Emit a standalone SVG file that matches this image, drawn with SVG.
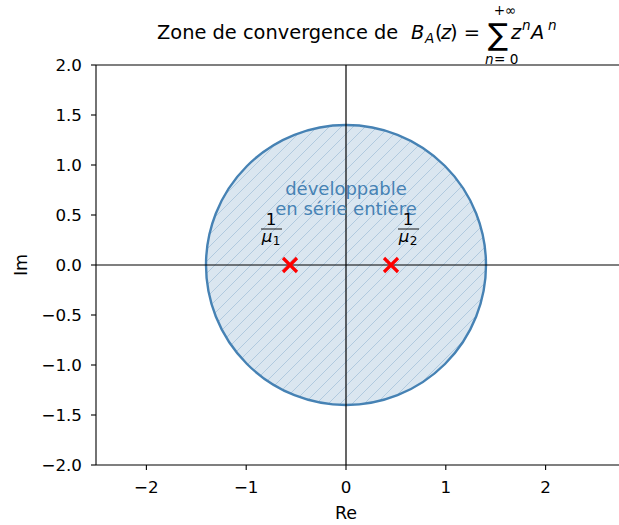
<svg xmlns="http://www.w3.org/2000/svg" width="619" height="525" viewBox="0 0 619 525">
<defs>
<style>
text{font-family:"DejaVu Sans","Liberation Sans",sans-serif;fill:#000}
.tick{font-size:16.7px}
.lbl{font-size:16.7px}
.axl{font-size:17.5px}
.ttl{font-size:19.4px}
.sub{font-size:13.6px}
.it{font-style:italic}
.ax{stroke:#000;stroke-width:1.1;fill:none}
.tk{stroke:#000;stroke-width:1.1}
.cross{stroke:#ff0000;stroke-width:3.2;fill:none}
</style>
<pattern id="hatch" patternUnits="userSpaceOnUse" width="12" height="12">
<path d="M-3,3 L3,-3 M0,12 L12,0 M9,15 L15,9" stroke="#4682b4" stroke-opacity="0.28" stroke-width="1"/>
</pattern>
</defs>
<rect width="619" height="525" fill="#fff"/>

<g id="region">
<circle cx="346" cy="265" r="140" fill="#4682b4" fill-opacity="0.2"/>
<circle cx="346" cy="265" r="140" fill="url(#hatch)"/>
<circle cx="346" cy="265" r="140" fill="none" stroke="#4682b4" stroke-width="2.4"/>
</g>

<g id="connectors">
<line x1="96" y1="265" x2="619" y2="265" stroke="#000" stroke-width="1.2"/>
<line x1="346" y1="65" x2="346" y2="465" stroke="#000" stroke-width="1.2"/>
</g>

<g id="region-label">
<text x="346" y="195" text-anchor="middle" style="font-size:18px;fill:#4682b4">développable</text>
<text x="346" y="215" text-anchor="middle" style="font-size:18px;fill:#4682b4">en série entière</text>
</g>

<g id="pole1">
<path class="cross" d="M283,258 L297,272 M283,272 L297,258"/>
<text x="271" y="225" text-anchor="middle" class="lbl">1</text>
<line x1="261" y1="229" x2="282" y2="229" stroke="#000" stroke-width="0.9"/>
<text x="267" y="242" text-anchor="middle" class="lbl it">μ</text>
<text x="276.5" y="245" text-anchor="middle" style="font-size:12px">1</text>
</g>

<g id="pole2">
<path class="cross" d="M384,258 L398,272 M384,272 L398,258"/>
<text x="408" y="225" text-anchor="middle" class="lbl">1</text>
<line x1="398" y1="229" x2="419" y2="229" stroke="#000" stroke-width="0.9"/>
<text x="404" y="242" text-anchor="middle" class="lbl it">μ</text>
<text x="413.5" y="245" text-anchor="middle" style="font-size:12px">2</text>
</g>

<g id="axes">
<line class="ax" x1="96" y1="65" x2="96" y2="465"/>
<line class="ax" x1="96" y1="65" x2="619" y2="65"/>
<line class="ax" x1="96" y1="465" x2="619" y2="465"/>
<g class="tk">
<line x1="91" y1="65" x2="96" y2="65"/>
<line x1="91" y1="115" x2="96" y2="115"/>
<line x1="91" y1="165" x2="96" y2="165"/>
<line x1="91" y1="215" x2="96" y2="215"/>
<line x1="91" y1="265" x2="96" y2="265"/>
<line x1="91" y1="315" x2="96" y2="315"/>
<line x1="91" y1="365" x2="96" y2="365"/>
<line x1="91" y1="415" x2="96" y2="415"/>
<line x1="91" y1="465" x2="96" y2="465"/>
<line x1="146.4" y1="465" x2="146.4" y2="470"/>
<line x1="246.2" y1="465" x2="246.2" y2="470"/>
<line x1="346" y1="465" x2="346" y2="470"/>
<line x1="445.8" y1="465" x2="445.8" y2="470"/>
<line x1="545.6" y1="465" x2="545.6" y2="470"/>
</g>
<g class="tick" text-anchor="end">
<text x="82" y="71">2.0</text>
<text x="82" y="121">1.5</text>
<text x="82" y="171">1.0</text>
<text x="82" y="221">0.5</text>
<text x="82" y="271">0.0</text>
<text x="82" y="321">−0.5</text>
<text x="82" y="371">−1.0</text>
<text x="82" y="421">−1.5</text>
<text x="82" y="471">−2.0</text>
</g>
<g class="tick" text-anchor="middle">
<text x="146.4" y="493">−2</text>
<text x="246.2" y="493">−1</text>
<text x="346" y="493">0</text>
<text x="445.8" y="493">1</text>
<text x="545.6" y="493">2</text>
</g>
<text x="346" y="519" text-anchor="middle" class="axl">Re</text>
<text transform="translate(27,265) rotate(-90)" text-anchor="middle" class="axl">Im</text>
</g>

<g id="title">
<text x="157" y="39" class="ttl">Zone de convergence de</text>
<text x="411" y="39" class="ttl it">B</text>
<text x="425" y="43" class="sub it">A</text>
<text x="435" y="39" class="ttl">(</text>
<text x="441" y="39" class="ttl it">z</text>
<text x="450" y="39" class="ttl">) =</text>
<text x="498" y="45" text-anchor="middle" style="font-size:30px">∑</text>
<text x="505" y="15" text-anchor="middle" class="sub">+∞</text>
<text x="485" y="64" class="sub it">n</text>
<text x="494" y="64" class="sub">= 0</text>
<text x="511" y="39" class="ttl it">z</text>
<text x="522" y="30" class="sub it">n</text>
<text x="531" y="39" class="ttl it">A</text>
<text x="548" y="30" class="sub it">n</text>
</g>
</svg>
